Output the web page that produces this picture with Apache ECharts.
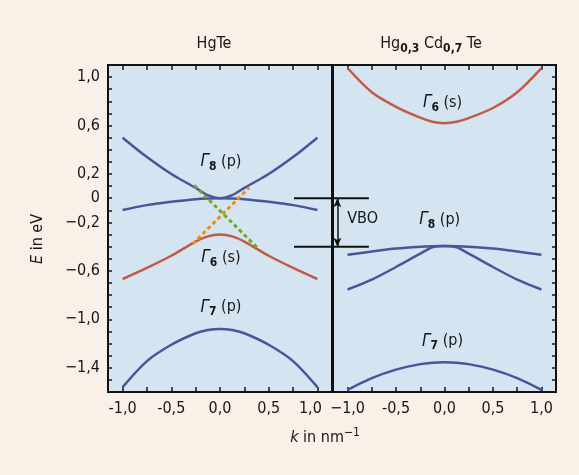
<!DOCTYPE html>
<html>
<head>
<meta charset="utf-8">
<script src="https://cdn.jsdelivr.net/npm/echarts@6/dist/echarts.min.js"></script>
<style>
  html, body { margin: 0; padding: 0; background: #f9f1e7; }
  #chart { width: 579px; height: 475px; }
</style>
</head>
<body>
<div id="chart"></div>
<script>
// Wellenzahl-Stützstellen (nm^-1)
const kPts = [-1, -0.75, -0.5, -0.25, -0.125, 0, 0.125, 0.25, 0.5, 0.75, 1];

// HgTe Bänder (eV)
const hgteLight = [0.50, 0.34, 0.20, 0.085, 0.025, 0.0, 0.025, 0.085, 0.20, 0.34, 0.50];
const hgteHeavy = [-0.098, -0.057, -0.03, -0.008, -0.002, 0, -0.002, -0.008, -0.03, -0.057, -0.098];
const hgteG6 = [-0.667, -0.575, -0.475, -0.358, -0.315, -0.30, -0.315, -0.358, -0.475, -0.575, -0.667];
const hgteG7 = [-1.56, -1.345, -1.21, -1.115, -1.088, -1.08, -1.088, -1.115, -1.21, -1.345, -1.56];

// Hg0,3Cd0,7Te Bänder (eV)
const cdG6 = [1.075, 0.875, 0.755, 0.665, 0.632, 0.62, 0.632, 0.662, 0.745, 0.875, 1.075];
const cdHeavy = [-0.467, -0.44, -0.415, -0.40, -0.396, -0.395, -0.396, -0.40, -0.415, -0.44, -0.467];
const cdLight = [-0.754, -0.672, -0.568, -0.458, -0.405, -0.395, -0.405, -0.458, -0.568, -0.672, -0.754];
const cdG7 = [-1.582, -1.485, -1.415, -1.37, -1.358, -1.355, -1.358, -1.37, -1.415, -1.485, -1.582];

// gestrichelte Kreuzung (k, E)
const crossGreen = [[-0.265, 0.107], [0.378, -0.404]];
const crossOrange = [[-0.28, -0.377], [0.30, 0.088]];

// Valenzband-Offset
const vboLevels = [0, -0.40];
const vboLeftK = [0.76, 1.2];
const vboRightK = [-1.2, -0.78];
const vboArrowK = -1.105;

// Achsen
const kTicks = [-1, -0.75, -0.5, -0.25, 0, 0.25, 0.5, 0.75, 1];
const kTickLabels = [-1, -0.5, 0, 0.5, 1];
const eTickLabels = [1.0, 0.6, 0.2, 0, -0.2, -0.6, -1.0, -1.4];

// Beschriftungen in den Feldern (Panel 0 = HgTe, 1 = Hg0,3Cd0,7Te)
const bandLabels = [
  { panel: 0, k: 0.01, e: 0.30, sub: '8', orb: 'p' },
  { panel: 0, k: 0.01, e: -0.49, sub: '6', orb: 's' },
  { panel: 0, k: 0.01, e: -0.90, sub: '7', orb: 'p' },
  { panel: 1, k: -0.02, e: 0.79, sub: '6', orb: 's' },
  { panel: 1, k: -0.05, e: -0.18, sub: '8', orb: 'p' },
  { panel: 1, k: -0.02, e: -1.18, sub: '7', orb: 'p' }
];
const vboText = { panel: 1, k: -0.845, e: -0.17 };

const FONT = "'Liberation Sans Narrow', 'DejaVu Sans Condensed', 'Roboto', sans-serif";
const INK = '#161616';
const BLUE = '#46569b';
const RED = '#c25a48';

const zip = (xs, ys) => xs.map((x, i) => [x, ys[i]]);
const fmtNum = v => {
  const r = Math.round(v * 10) / 10;
  if (r === 0) return '0';
  return (r < 0 ? '\u2212' : '') + Math.abs(r).toFixed(1).replace('.', ',');
};

const richStyles = {
  g: { fontFamily: FONT, fontSize: 17, fontStyle: 'italic', fill: INK, lineHeight: 22, verticalAlign: 'middle' },
  s: { fontFamily: FONT, fontSize: 12, fontWeight: 'bold', fill: INK, lineHeight: 22, verticalAlign: 'bottom' },
  n: { fontFamily: FONT, fontSize: 16, fill: INK, lineHeight: 22, verticalAlign: 'middle' },
  i: { fontFamily: FONT, fontSize: 16, fontStyle: 'italic', fill: INK, lineHeight: 22, verticalAlign: 'middle' },
  p: { fontFamily: FONT, fontSize: 12, fill: INK, lineHeight: 22, verticalAlign: 'top' }
};

function textEl(x, y, text, rotation) {
  return {
    type: 'text', x, y, rotation: rotation || 0, z: 10, silent: true,
    style: {
      text, rich: richStyles, fill: INK,
      align: 'center', verticalAlign: 'middle', textAlign: 'center', textVerticalAlign: 'middle'
    }
  };
}

function curve(name, xi, yi, data, color) {
  return {
    name, type: 'line', xAxisIndex: xi, yAxisIndex: yi,
    data: zip(kPts, data), smooth: 0.3,
    showSymbol: false, symbol: 'none', silent: true,
    lineStyle: { color, width: 2.5 }
  };
}

function segment(xi, yi, data, color, type) {
  return {
    type: 'line', xAxisIndex: xi, yAxisIndex: yi, data,
    showSymbol: false, symbol: 'none', silent: true,
    lineStyle: { color, width: type ? 3 : 2, type: type || 'solid' }
  };
}

function xAxisPair(gi, minLabelText) {
  const base = {
    gridIndex: gi, type: 'value', min: -1.15, max: 1.15,
    axisLine: { show: false, onZero: false }, splitLine: { show: false }
  };
  return [
    Object.assign({}, base, {
      position: 'bottom',
      axisTick: { show: true, inside: true, length: 5, customValues: kTicks, lineStyle: { color: INK, width: 1.5 } },
      axisLabel: {
        show: true, customValues: kTickLabels, margin: 9, color: INK, fontFamily: FONT, fontSize: 16,
        formatter: v => {
          if (v === -1) return minLabelText;
          const t = (v < 0 ? '-' : '') + Math.abs(v).toFixed(1).replace('.', ',');
          return (gi === 0 && v === 1) ? '{r|' + t + '}' : t;
        },
        rich: { r: { fontFamily: FONT, fontSize: 16, color: INK, padding: [0, 14, 0, 0] } }
      }
    }),
    Object.assign({}, base, {
      position: 'top',
      axisTick: { show: true, inside: true, length: 5, customValues: kTicks, lineStyle: { color: INK, width: 1.5 } },
      axisLabel: { show: false }
    })
  ];
}

const chart = echarts.init(document.getElementById('chart'), null, { renderer: 'canvas' });

const gridBase = {
  top: 65, height: 327, width: 224,
  show: true, backgroundColor: '#d5e4f1', borderColor: '#111', borderWidth: 2,
  containLabel: false, outerBoundsMode: 'none'
};

const yBase = {
  type: 'value', min: -1.6, max: 1.1, interval: 0.1,
  axisLine: { show: false, onZero: false }, splitLine: { show: false },
  axisTick: { show: true, inside: true, length: 4, lineStyle: { color: INK, width: 1.5 } }
};

const option = {
  animation: false,
  backgroundColor: '#f9f1e7',
  textStyle: { fontFamily: FONT },
  grid: [
    Object.assign({}, gridBase, { left: 108 }),
    Object.assign({}, gridBase, { left: 333, width: 223 })
  ],
  xAxis: [].concat(xAxisPair(0, '-1,0'), xAxisPair(1, '\u22121,0')),
  yAxis: [
    Object.assign({}, yBase, {
      gridIndex: 0, position: 'left',
      axisLabel: {
        show: true, margin: 8, color: INK, fontFamily: FONT, fontSize: 16,
        formatter: v => eTickLabels.some(t => Math.abs(t - v) < 1e-6) ? fmtNum(v) : ''
      }
    }),
    Object.assign({}, yBase, {
      gridIndex: 1, position: 'right',
      axisLabel: { show: false }
    })
  ],
  series: [
    // HgTe
    curve('HgTe Γ8 lh', 0, 0, hgteLight, BLUE),
    curve('HgTe Γ8 hh', 0, 0, hgteHeavy, BLUE),
    curve('HgTe Γ6', 0, 0, hgteG6, RED),
    curve('HgTe Γ7', 0, 0, hgteG7, BLUE),
    segment(0, 0, crossGreen, '#73a826', [4, 3]),
    segment(0, 0, crossOrange, '#ec8f14', [4, 3]),
    segment(0, 0, vboLeftK.map(k => [k, vboLevels[0]]), '#111'),
    segment(0, 0, vboLeftK.map(k => [k, vboLevels[1]]), '#111'),
    // Hg0,3Cd0,7Te
    curve('CdTe Γ6', 2, 1, cdG6, RED),
    curve('CdTe Γ8 hh', 2, 1, cdHeavy, BLUE),
    curve('CdTe Γ8 lh', 2, 1, cdLight, BLUE),
    curve('CdTe Γ7', 2, 1, cdG7, BLUE),
    segment(2, 1, vboRightK.map(k => [k, vboLevels[0]]), '#111'),
    Object.assign(segment(2, 1, vboRightK.map(k => [k, vboLevels[1]]), '#111'), {
      markLine: {
        silent: true, symbol: ['arrow', 'arrow'], symbolSize: [6, 9],
        label: { show: false },
        lineStyle: { color: '#111', width: 1.5, type: 'solid' },
        data: [[{ coord: [vboArrowK, vboLevels[0]] }, { coord: [vboArrowK, vboLevels[1]] }]]
      }
    })
  ]
};

chart.setOption(option);

// Texte: Positionen aus den Achsen der Felder umrechnen
const toPx = (panel, k, e) => chart.convertToPixel({ xAxisIndex: panel * 2, yAxisIndex: panel }, [k, e]);
const texts = bandLabels.map(d => {
  const [x, y] = toPx(d.panel, d.k, d.e);
  return textEl(x, y, '{g|\u0393}{s|' + d.sub + '}{n| (' + d.orb + ')}');
});
const vp = toPx(vboText.panel, vboText.k, vboText.e);
texts.push(textEl(vp[0], vp[1], '{n|VBO}'));
texts.push(textEl(214, 44, '{n|HgTe}'));
texts.push(textEl(431, 44, '{n|Hg}{s|0,3}{n| Cd}{s|0,7}{n| Te}'));
texts.push(textEl(38, 239, '{i|E}{n| in eV}', Math.PI / 2));
texts.push(textEl(325, 438, '{i|k}{n| in nm}{p|\u22121}'));

chart.setOption({ graphic: texts });
</script>
</body>
</html>
